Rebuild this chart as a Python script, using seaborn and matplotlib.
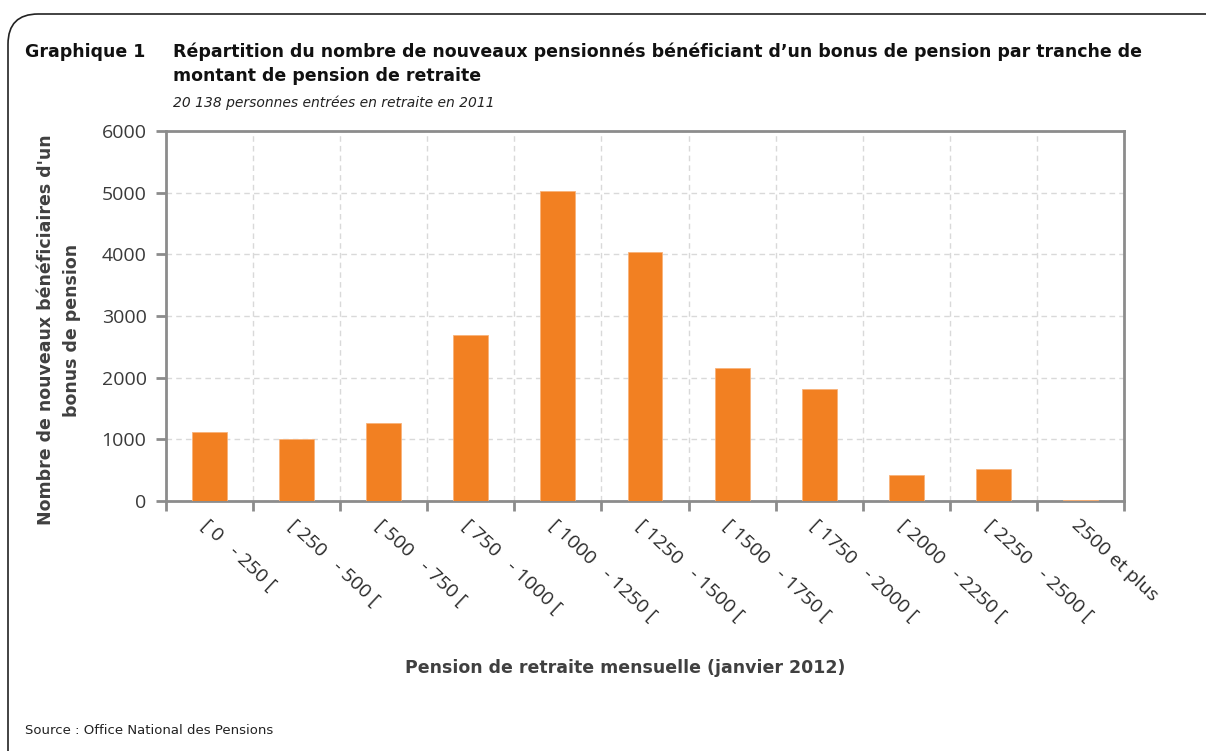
import matplotlib
matplotlib.use("Agg")
import matplotlib.pyplot as plt
import seaborn as sns
import numpy as np
import pandas as pd
from matplotlib.patches import FancyBboxPatch

categories = ["[ 0   - 250 [", "[ 250   - 500 [", "[ 500   - 750 [", "[ 750   - 1000 [",
              "[ 1000   - 1250 [", "[ 1250   - 1500 [", "[ 1500   - 1750 [", "[ 1750   - 2000 [",
              "[ 2000   - 2250 [", "[ 2250   - 2500 [", "2500 et plus"]
values = [1120, 1010, 1263, 2700, 5026, 4044, 2162, 1810, 420, 515, 15]
yticks = [0, 1000, 2000, 3000, 4000, 5000, 6000]

sns.set_theme(style="white")
plt.rcParams['font.family'] = ['DejaVu Sans']

W, H = 1206, 751
fig = plt.figure(figsize=(W / 100, H / 100), dpi=100)
ax = fig.add_axes([166 / W, 1 - 501 / H, (1124 - 166) / W, (501 - 131) / H])

df = pd.DataFrame({"cat": categories, "val": values})
sns.barplot(data=df, x="cat", y="val", color="#F28022", saturation=1, width=0.4,
            ax=ax, edgecolor="#F9B37A", linewidth=0.6, zorder=3)

ax.set_xlim(-0.5, len(categories) - 0.5)
ax.set_ylim(0, 6000)
ax.set_yticks(yticks)
ax.set_yticklabels([str(v) for v in yticks], fontsize=14, color="#3a3a3a", family="Open Sans")

ax.set_xticks(np.arange(len(categories)))
ax.set_xticklabels(categories, rotation=-43, ha="left", va="top", rotation_mode="anchor",
                   fontsize=14, color="#2a2a2a", family="Open Sans")
ax.set_xticks(np.arange(-0.5, len(categories)), minor=True)
ax.tick_params(axis="x", which="major", bottom=True, length=0, pad=11)
ax.tick_params(axis="x", which="minor", bottom=True, length=7, width=2, color="#8c8c8c", direction="out")
ax.tick_params(axis="y", which="major", left=True, length=7, width=2, color="#8c8c8c", direction="out", pad=7)
ax.tick_params(axis="y", which="minor", left=False)

ax.grid(True, axis="y", which="major", color="#d9d9d9", linestyle=(0, (4, 3)), linewidth=1, zorder=0)
ax.grid(True, axis="x", which="minor", color="#d9d9d9", linestyle=(0, (4, 3)), linewidth=1, zorder=0)
ax.grid(False, axis="x", which="major")
ax.set_axisbelow(True)

for s in ax.spines.values():
    s.set_visible(True)
    s.set_color("#8c8c8c")
    s.set_linewidth(2)

ax.set_xlabel("")
ax.set_ylabel("")

# axis titles
fig.text(625 / W, 1 - 668 / H, "Pension de retraite mensuelle (janvier 2012)", ha="center", va="center",
         fontsize=12.5, fontweight="bold", color="#404040")
fig.text(59 / W, 1 - 330 / H, "Nombre de nouveaux bénéficiaires d'un\nbonus de pension", ha="center",
         va="center", rotation=90, fontsize=12.5, fontweight="bold", color="#404040", linespacing=1.6)

# titles
fig.text(25 / W, 1 - 52 / H, "Graphique 1", ha="left", va="center", fontsize=12.5, fontweight="bold", color="#111111")
fig.text(173 / W, 1 - 52 / H, "Répartition du nombre de nouveaux pensionnés bénéficiant d’un bonus de pension par tranche de",
         ha="left", va="center", fontsize=12.5, fontweight="bold", color="#111111")
fig.text(173 / W, 1 - 76 / H, "montant de pension de retraite", ha="left", va="center", fontsize=12.5,
         fontweight="bold", color="#111111")
fig.text(173 / W, 1 - 103 / H, "20 138 personnes entrées en retraite en 2011", ha="left", va="center",
         fontsize=10, style="italic", color="#222222")
fig.text(25 / W, 1 - 731 / H, "Source : Office National des Pensions", ha="left", va="center",
         fontsize=9.5, color="#222222")

# frame
frame = FancyBboxPatch((8 / W, 1 - 800 / H), 1300 / W, (800 - 14) / H,
                       boxstyle="round,pad=0,rounding_size=0.025", transform=fig.transFigure,
                       facecolor="none", edgecolor="#222222", linewidth=1.2, mutation_aspect=W / H)
fig.patches.append(frame)

fig.savefig("out.png", dpi=100)
